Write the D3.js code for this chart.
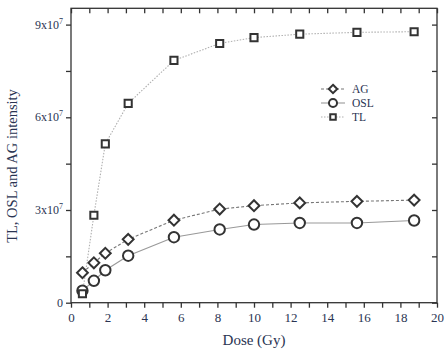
<!DOCTYPE html>
<html><head><meta charset="utf-8">
<script src="https://cdn.jsdelivr.net/npm/d3@7"></script>
<style>body{margin:0;background:#fff}svg{display:block}</style>
</head><body>
<svg id="c" width="446" height="350"></svg>
<script>
const dose = [0.625, 1.25, 1.875, 3.125, 5.625, 8.125, 10, 12.5, 15.625, 18.75];
const tl   = [2.9e6, 2.83e7, 5.14e7, 6.45e7, 7.84e7, 8.39e7, 8.58e7, 8.69e7, 8.75e7, 8.77e7];
const ag   = [9.7e6, 1.29e7, 1.6e7, 2.05e7, 2.67e7, 3.03e7, 3.14e7, 3.23e7, 3.28e7, 3.32e7];
const osl  = [3.9e6, 7.1e6, 1.05e7, 1.52e7, 2.12e7, 2.37e7, 2.53e7, 2.58e7, 2.58e7, 2.66e7];
const xTicks = [0, 2, 4, 6, 8, 10, 12, 14, 16, 18, 20];
const yTicks = [0, 3e7, 6e7, 9e7];
const yTickLabels = ["0", "3x10", "6x10", "9x10"];
const legendNames = ["AG", "OSL", "TL"];

const svg = d3.select("#c");
const L = 71, R = 437, T = 8.3, B = 302.7;
const x = d3.scaleLinear().domain([0, 20]).range([L, R]);
const y = d3.scaleLinear().domain([0, 3e7]).range([B, 210]);
const yTop = y.invert(T);
y.domain([0, yTop]).range([B, T]);

const axisCol = "#333", textCol = "#2a3452";
const font = "'Liberation Serif', 'Times New Roman', serif";

// frame
svg.append("rect").attr("x", L).attr("y", T).attr("width", R - L).attr("height", B - T)
  .attr("fill", "none").attr("stroke", axisCol).attr("stroke-width", 1.3);

// x ticks: bottom outward, top inward (downwards)
const xMinor = d3.range(0, 21, 1);
svg.append("g").attr("transform", `translate(0,${B})`)
  .call(d3.axisBottom(x).tickValues(xMinor).tickSize(5).tickFormat(""));
svg.append("g").attr("transform", `translate(0,${T})`)
  .call(d3.axisBottom(x).tickValues(xMinor).tickSize(5).tickFormat(""));
svg.append("g").attr("transform", `translate(0,${B})`)
  .call(d3.axisBottom(x).tickValues(xTicks).tickSize(0).tickPadding(10).tickFormat(d3.format("d")))
  .call(g => g.select(".domain").remove())
  .selectAll("text").attr("font-family", font).attr("font-size", 13).attr("fill", textCol);

// y ticks: left outward, right inward (leftwards)
const yMinor = d3.range(0, 9.1e7, 1.5e7);
svg.append("g").attr("transform", `translate(${L},0)`)
  .call(d3.axisLeft(y).tickValues(yMinor).tickSize(5).tickFormat(""));
svg.append("g").attr("transform", `translate(${R},0)`)
  .call(d3.axisLeft(y).tickValues(yMinor).tickSize(5).tickFormat(""));
svg.selectAll(".domain").attr("stroke", "none");
svg.selectAll(".tick line").attr("stroke", axisCol).attr("stroke-width", 1.3);

const yl = svg.append("g");
yTicks.forEach((v, i) => {
  const t = yl.append("text").attr("x", L - 8).attr("y", y(v) + 4)
    .attr("text-anchor", "end").attr("font-family", font).attr("font-size", 12).attr("fill", textCol);
  t.append("tspan").text(yTickLabels[i]);
  if (v !== 0) t.append("tspan").attr("dy", -5).attr("font-size", 8).text("7");
});

// axis titles
svg.append("text").attr("x", (L + R) / 2).attr("y", 345).attr("text-anchor", "middle")
  .attr("font-family", font).attr("font-size", 15).attr("fill", textCol).text("Dose (Gy)");
svg.append("text").attr("transform", "translate(17,166) rotate(-90)").attr("text-anchor", "middle")
  .attr("font-family", font).attr("font-size", 14.5).attr("fill", textCol).text("TL, OSL and AG intensity");

// series
const series = [
  {name: "AG", vals: ag, color: "#777", dash: "3,2", sym: d3.symbolDiamond2, size: 75},
  {name: "OSL", vals: osl, color: "#999", dash: null, sym: d3.symbolCircle, size: 85},
  {name: "TL", vals: tl, color: "#b0b0b0", dash: "1.5,1.5", sym: d3.symbolSquare2, size: 65}
];
const line = d3.line().x(d => x(d[0])).y(d => y(d[1]));
series.forEach(s => {
  const pts = dose.map((d, i) => [d, s.vals[i]]);
  svg.append("path").attr("d", line(pts)).attr("fill", "none").attr("stroke", s.color)
    .attr("stroke-width", 1.1).attr("stroke-dasharray", s.dash);
});
series.forEach(s => {
  const pts = dose.map((d, i) => [d, s.vals[i]]);
  svg.append("g").selectAll("path").data(pts).join("path")
    .attr("transform", d => `translate(${x(d[0])},${y(d[1])})`)
    .attr("d", d3.symbol().type(s.sym).size(s.size))
    .attr("fill", "#fff").attr("stroke", "#333").attr("stroke-width", 2);
});

// legend
const lg = svg.append("g");
series.forEach((s, i) => {
  const cy = 89 + i * 14;
  lg.append("line").attr("x1", 321).attr("x2", 345).attr("y1", cy).attr("y2", cy)
    .attr("stroke", s.color).attr("stroke-width", 1.1).attr("stroke-dasharray", s.dash);
  lg.append("path").attr("transform", `translate(333,${cy})`)
    .attr("d", d3.symbol().type(s.sym).size(s.size * 0.6))
    .attr("fill", "#fff").attr("stroke", "#333").attr("stroke-width", 2);
  lg.append("text").attr("x", 352).attr("y", cy + 4).attr("font-family", font)
    .attr("font-size", 11.5).attr("fill", textCol).text(legendNames[i]);
});
</script>
</body></html>
